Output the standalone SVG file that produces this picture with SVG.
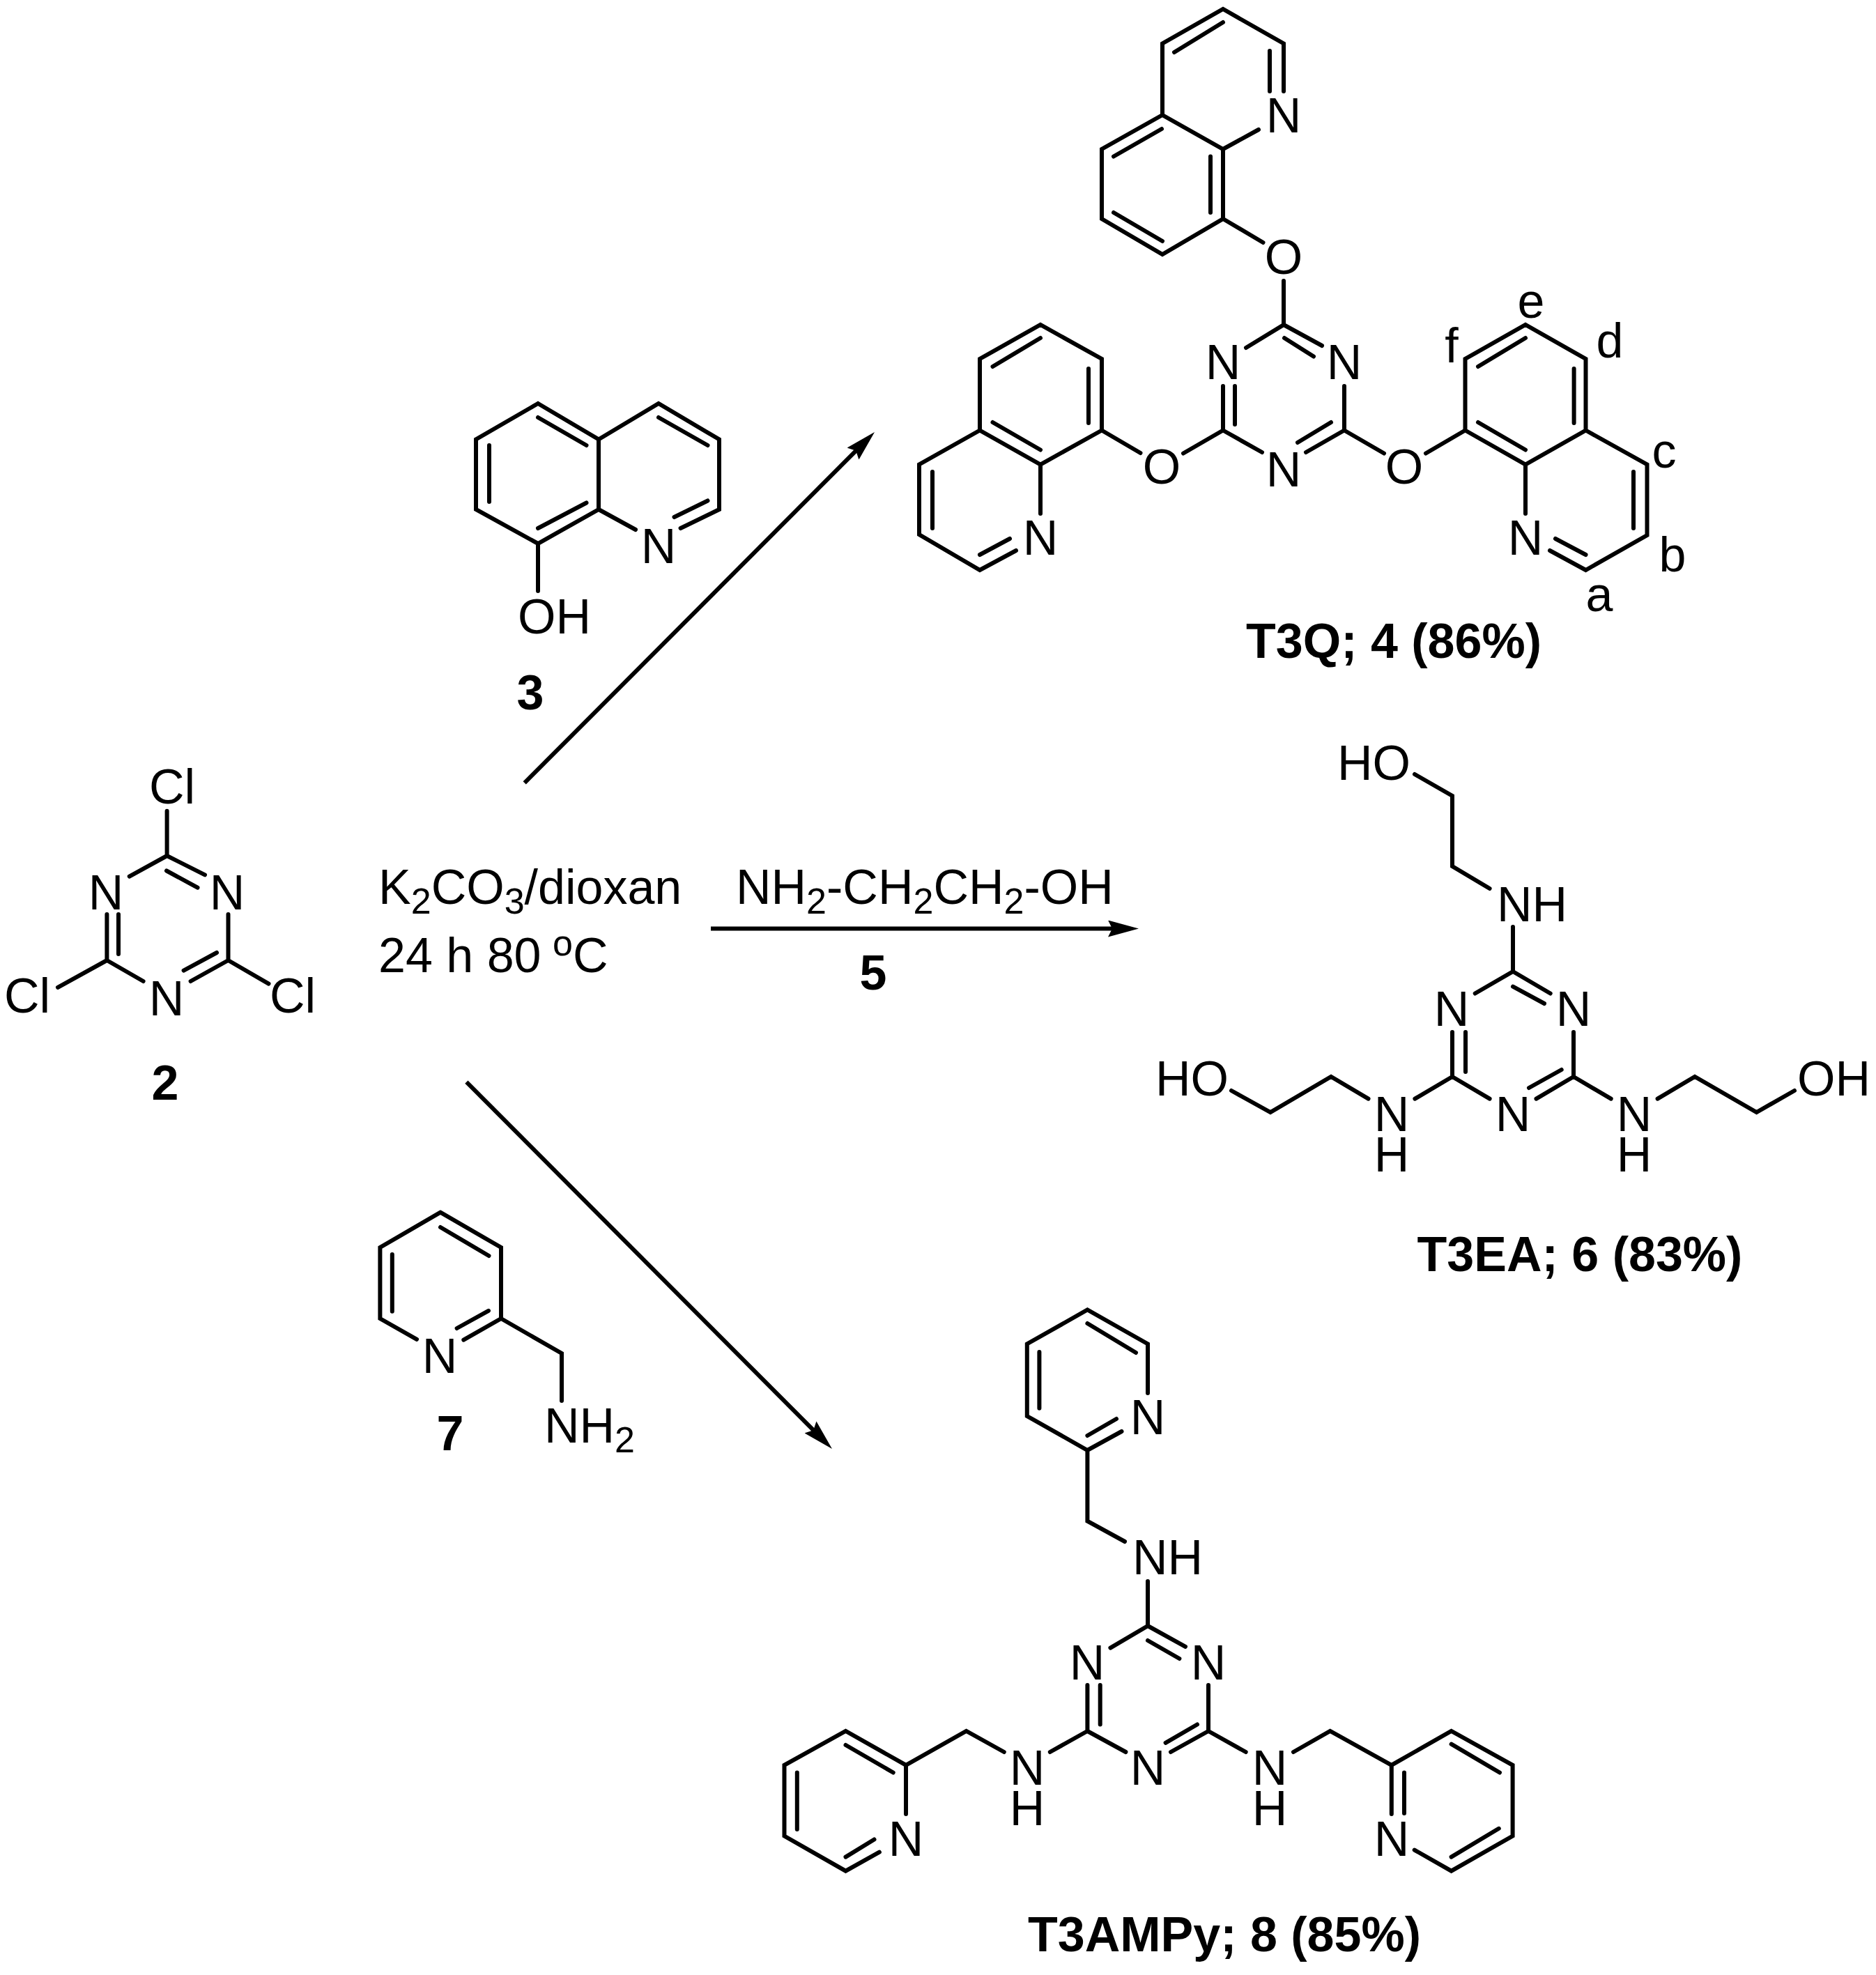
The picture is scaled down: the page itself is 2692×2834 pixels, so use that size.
<svg xmlns="http://www.w3.org/2000/svg" width="2692" height="2834" viewBox="0 0 2692 2834">
<style>
text{font-family:"Liberation Sans",Arial,sans-serif;font-size:70px;fill:#000}
.m{text-anchor:middle}
.b{font-weight:bold;text-anchor:middle}
.s{font-size:52px}
.bond{fill:none;stroke:#000;stroke-width:6;stroke-linecap:round;stroke-linejoin:miter}
.arrow{fill:none;stroke:#000;stroke-width:6;marker-end:url(#head)}
</style>
<defs>
<marker id="head" markerUnits="userSpaceOnUse" viewBox="0 0 44 24" markerWidth="44" markerHeight="24" refX="24" refY="12" orient="auto">
<path d="M0,0L44,12L0,24L6,12Z" fill="#000"/>
</marker>
</defs>
<rect width="2692" height="2834" fill="#fff"/>

<g id="connectors">
<path class="arrow" d="M752.7,1123.4L1240.9,634.1"/>
<path class="arrow" d="M1020,1332.5L1614,1332.5"/>
<path class="arrow" d="M669.4,1552.7L1179.9,2064.9"/>
</g>

<g id="compound-2">
<path class="bond" d="M239.6,1163.7V1228M239.6,1228L185.7,1257.6M239.6,1228L294,1255.4M239,1249.5L283.5,1273.7M153.4,1312V1378M170,1312V1369M327.5,1312V1378M153.4,1378L205.6,1408M327.5,1378L273.6,1408M311,1367L263.6,1392.6M153.4,1378L83,1416.8M327.5,1378L385.5,1411.6"/>
<text x="214" y="1153">Cl</text>
<text class="m" x="152" y="1305">N</text>
<text class="m" x="326" y="1305">N</text>
<text class="m" x="239" y="1457">N</text>
<text x="6" y="1453">Cl</text>
<text x="387" y="1453">Cl</text>
<text class="b" x="237" y="1578">2</text>
</g>

<g id="conditions">
<text x="543" y="1297">K<tspan class="s" dy="13.5">2</tspan><tspan dy="-13.5">CO</tspan><tspan class="s" dy="13.5">3</tspan><tspan dy="-13.5">/dioxan</tspan></text>
<text x="543" y="1395">24 h 80 <tspan class="s" dx="-3" dy="-24">o</tspan><tspan dy="24">C</tspan></text>
</g>

<g id="compound-3">
<path class="bond" d="M772,579L683,630.5V731L772,780L859,731V630.5L772,579M859,630.5L945,579L1032,630.5V731L976.6,758M859,731L912,760M772,599L841.5,639M702,639V720M772,758L841.5,721.5M945,599L1015.5,639M967.5,742L1015.5,718.5M772,780V848"/>
<text class="m" x="945" y="808">N</text>
<text x="743" y="909">OH</text>
<text class="b" x="761" y="1018">3</text>
</g>

<g id="reagent-5">
<text x="1056" y="1297">NH<tspan class="s" dy="13.5">2</tspan><tspan dy="-13.5">-CH</tspan><tspan class="s" dy="13.5">2</tspan><tspan dy="-13.5">CH</tspan><tspan class="s" dy="13.5">2</tspan><tspan dy="-13.5">-OH</tspan></text>
<text class="b" x="1253" y="1420">5</text>
</g>

<g id="compound-7">
<path class="bond" d="M632,1739.7L719,1790V1892L665.3,1922.7M632,1739.7L545.4,1790V1892L598,1921.8M701,1880.8L655.6,1906M562.8,1800V1881.7M632,1761L701.5,1802M719,1892L806,1942V2010"/>
<text class="m" x="631" y="1970">N</text>
<text x="781" y="2070">NH<tspan class="s" dy="13.5">2</tspan></text>
<text class="b" x="646" y="2081">7</text>
</g>

<g id="T3Q">
<path class="bond" d="M1842,131V62.5L1755,13L1668,62.5V165L1755,214L1806,186M1668,165L1581,214V314L1668,365L1755,314V214M1755,32L1685,75M1822,73V131M1667,185L1598,224.5M1598,305L1668,346M1737,224.5V305M1755,314L1812.5,348M1842,403V466L1788,499M1842,466L1897,496M1843,485L1885,511.5M1929,554V617.5M1755,554V617.5M1772,554V609M1755,617.5L1811,649M1929,617.5L1874,649M1910,606L1862,635M1755,617.5L1698,650.5M1636.5,650L1581,617.5M1929,617.5L1986,650.5M2046,650.5L2102.5,617.5"/>
<path class="bond" d="M1581,617.5V515L1493,466L1406,515V617.5L1493,666.5L1581,617.5M1406,617.5L1319,666.5V767L1406,818L1458,790M1493,666.5V737M1562,529V607M1493,485L1424.5,526M1424.5,606L1493,645.5M1338,677V758M1406,796L1449,773"/>
<path class="bond" d="M2102.5,617.5V515L2189,466L2275.5,515V617.5L2189,666.5L2102.5,617.5M2275.5,617.5L2363.5,666.5V768L2275.5,818L2224,790M2189,666.5V737M2121,526L2189,485M2258.6,529V607M2121,606L2189,645.5M2344,677V758M2275.5,796L2232,773"/>
<text class="m" x="1842" y="190">N</text>
<text class="m" x="1842" y="393">O</text>
<text class="m" x="1755" y="544">N</text>
<text class="m" x="1929" y="544">N</text>
<text class="m" x="1842" y="698">N</text>
<text class="m" x="1667" y="694">O</text>
<text class="m" x="2015" y="694">O</text>
<text class="m" x="1493" y="796">N</text>
<text class="m" x="2189" y="796">N</text>
<text class="m" x="2083" y="520">f</text>
<text class="m" x="2197" y="456">e</text>
<text class="m" x="2310" y="513">d</text>
<text class="m" x="2388" y="671">c</text>
<text class="m" x="2400" y="820">b</text>
<text class="m" x="2295" y="877">a</text>
<text class="b" x="2000" y="944">T3Q; 4 (86%)</text>
</g>

<g id="T3EA">
<path class="bond" d="M2030,1111L2084,1142V1243L2137.6,1275M2171,1330V1394L2116.7,1425.5M2171,1394L2224.7,1425.5M2171,1415.7L2216,1440M2084,1481V1545M2103,1481V1538M2258,1481V1545M2084,1545L2137.6,1576.7M2258,1545L2204.5,1576.7M2240.7,1535L2194,1561M2084,1545L2030.4,1576.7M1963.5,1576.7L1910,1545L1823,1596L1767,1565M2258,1545L2311.7,1576.7M2378.6,1576.7L2432,1545L2520.6,1596L2575,1565"/>
<text x="1919" y="1119">HO</text>
<text x="2148" y="1322">NH</text>
<text class="m" x="2083" y="1472">N</text>
<text class="m" x="2258" y="1472">N</text>
<text class="m" x="2171" y="1623">N</text>
<text class="m" x="1997" y="1623">N<tspan x="1997" dy="58">H</tspan></text>
<text class="m" x="2345" y="1623">N<tspan x="2345" dy="58">H</tspan></text>
<text x="1658" y="1572">HO</text>
<text x="2579" y="1572">OH</text>
<text class="b" x="2267" y="1824">T3EA; 6 (83%)</text>
</g>

<g id="T3AMPy">
<path class="bond" d="M1647,1999V1928.5L1560.4,1879.5L1473.8,1928.5V2032L1560.4,2081L1609.5,2054M1560.4,2060L1602,2036M1560.4,1899L1630,1941M1491.4,1940V2020.7M1560.4,2081V2182.6L1614,2212M1647,2269V2333L1593.4,2364.6M1647,2333L1701,2362.8M1647,2354L1692.4,2380M1560.4,2418V2484M1578.7,2418V2474.5M1734,2418V2484M1560.4,2484L1615.4,2514M1734,2484L1680,2514M1718,2474.5L1672.6,2500.8M1560.4,2484L1506.8,2514M1440.8,2514L1386.6,2484L1300,2532.8M1734,2484L1787.7,2514M1856,2514L1908.7,2484L1996.8,2532.8"/>
<path class="bond" d="M1300,2603V2532.8L1213.5,2484L1125.5,2532.8V2634.5L1213.5,2684.7L1261.9,2657.7M1213.5,2664.6L1254.5,2639.5M1213.5,2504L1281.7,2543.5M1143.8,2543.5V2625"/>
<path class="bond" d="M1996.8,2603V2532.8L2082.6,2484L2170.6,2532.8V2634.5L2082.6,2684.7L2029.7,2654.6M2015,2543.5V2602M2082.6,2664.6L2150.8,2623.8M2082.6,2502.7L2152,2543.5"/>
<text class="m" x="1647" y="2058">N</text>
<text x="1625" y="2259">NH</text>
<text class="m" x="1560" y="2410">N</text>
<text class="m" x="1734" y="2410">N</text>
<text class="m" x="1647" y="2561">N</text>
<text class="m" x="1474" y="2561">N<tspan x="1474" dy="58">H</tspan></text>
<text class="m" x="1822" y="2561">N<tspan x="1822" dy="58">H</tspan></text>
<text class="m" x="1300" y="2663">N</text>
<text class="m" x="1997" y="2663">N</text>
<text class="b" x="1757" y="2800">T3AMPy; 8 (85%)</text>
</g>
</svg>
